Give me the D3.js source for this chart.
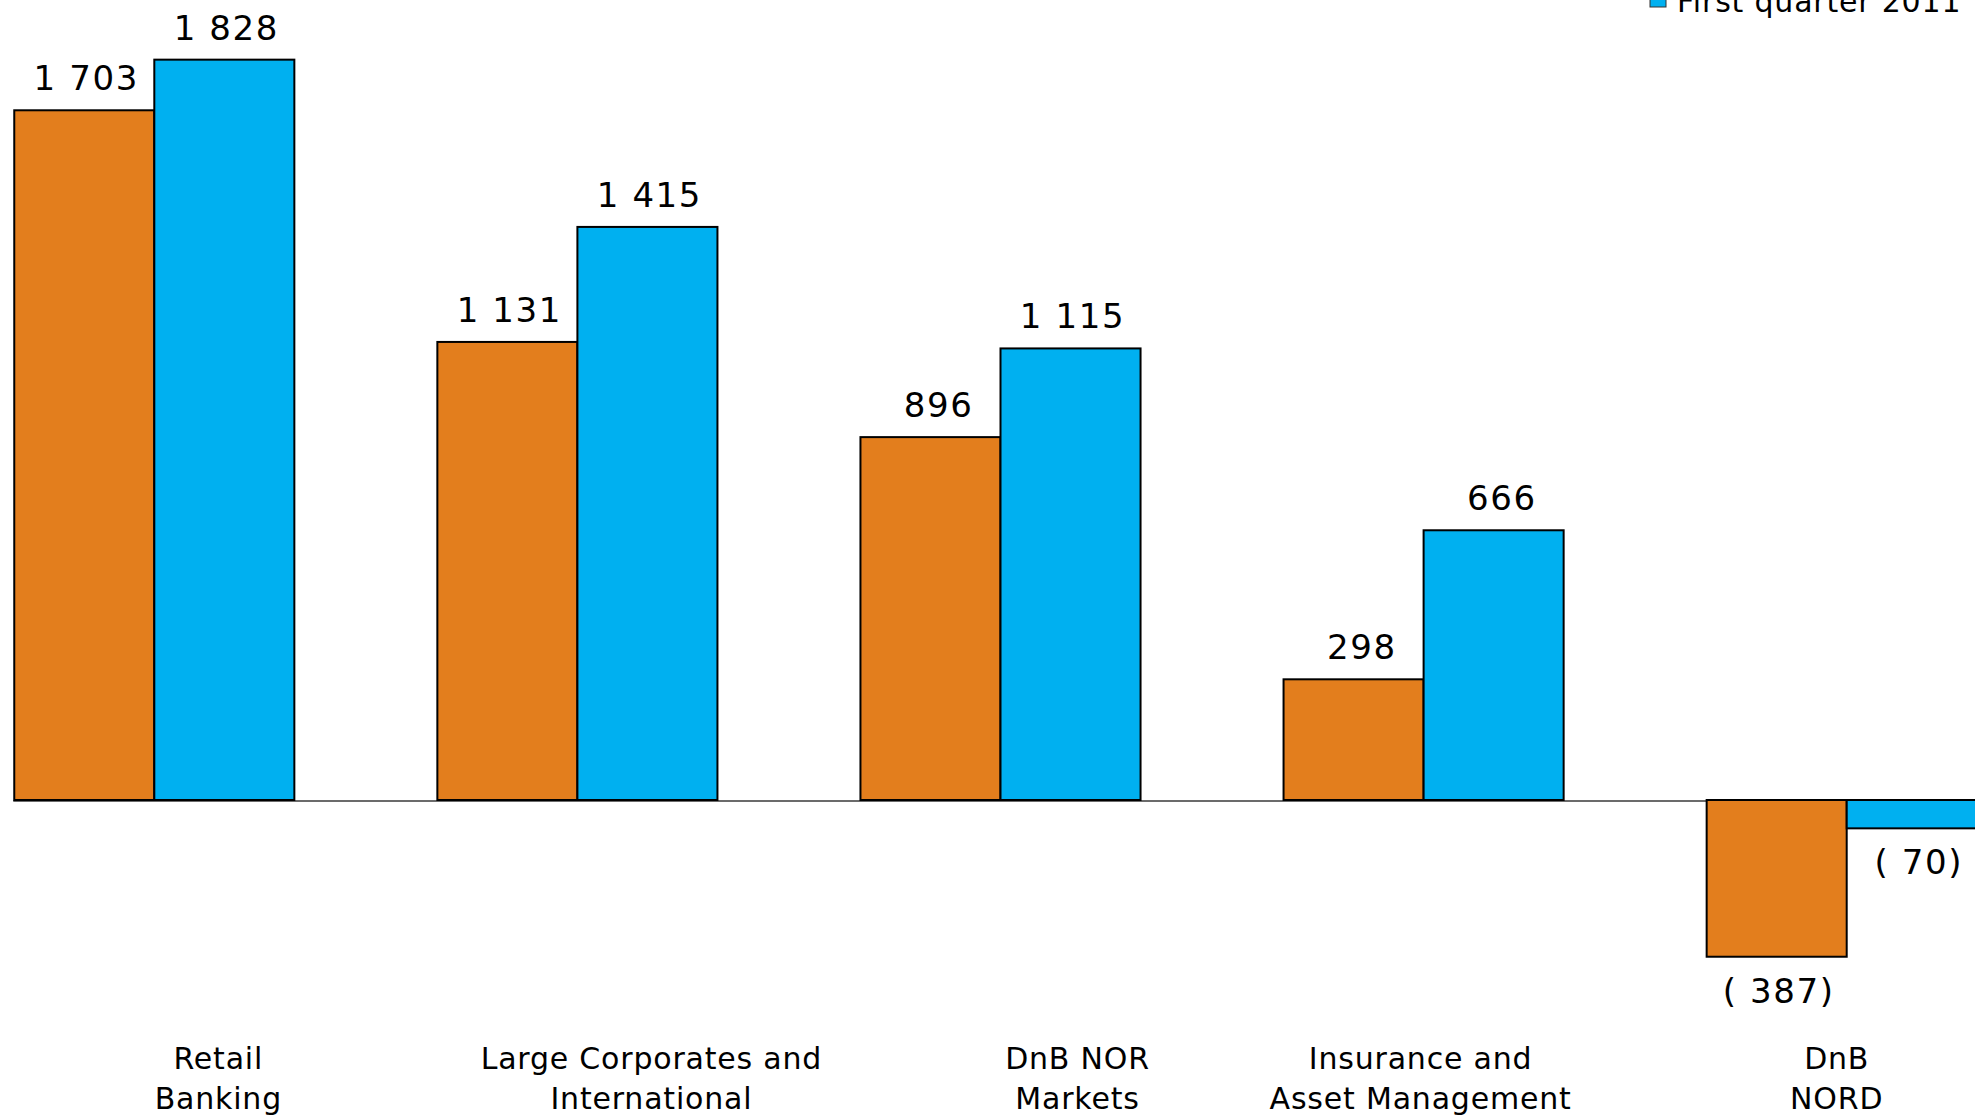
<!DOCTYPE html>
<html>
<head>
<meta charset="utf-8">
<script src="https://cdn.jsdelivr.net/npm/d3@7"></script>
<style>
  html, body { margin: 0; padding: 0; background: #ffffff; overflow: hidden; }
  svg { display: block; }
  text { font-family: "DejaVu Sans", Verdana, sans-serif; fill: #000; }
</style>
</head>
<body>
<svg id="chart" width="1975" height="1117"></svg>
<script>
// ---- data ----
const categories = ["Retail Banking", "Large Corporates and International", "DnB NOR Markets", "Insurance and Asset Management", "DnB NORD"];
const categoryLines = [["Retail", "Banking"], ["Large Corporates and", "International"], ["DnB NOR", "Markets"], ["Insurance and", "Asset Management"], ["DnB", "NORD"]];
const seriesNames = ["First quarter  2010", "First quarter  2011"];
const q1_2010 = [1703, 1131, 896, 298, -387];
const q1_2011 = [1828, 1415, 1115, 666, -70];
const seriesColors = ["#E37E1D", "#00B0F0"];
const legendShown = ["First quarter  2011"];   // only this entry is inside the frame

// ---- layout ----
const W = 1975, H = 1117;
const labelDx = [64, 74, 77, -3, -10];   // category label offsets from group centre (px)
const svg = d3.select("#chart");

const x0 = d3.scaleBand()
  .domain(categories)
  .range([-57.25, 2058.25])
  .paddingInner(0.338)
  .paddingOuter(0.169);
const x1 = d3.scaleBand()
  .domain(seriesNames)
  .range([0, x0.bandwidth()]);
const y = d3.scaleLinear()
  .domain([-400, 1900])
  .range([800 + 400 * 0.405, 800 - 1900 * 0.405]);

const seriesValues = [q1_2010, q1_2011];
const rows = [];
categories.forEach((c, i) => {
  seriesNames.forEach((s, j) => rows.push({ cat: c, ser: s, j: j, v: seriesValues[j][i] }));
});

// Excel-like "# ##0" format: a space placeholder precedes numbers below 1000
const NB = "\u00a0";
const locale = d3.formatLocale({ decimal: ",", thousands: NB, grouping: [3], currency: ["", ""] });
const fmtNum = locale.format(",");
const body = a => (a < 1000 ? NB : "") + fmtNum(a);
const fmt = v => v < 0 ? "(" + body(-v) + ")" : body(v);

// zero line
svg.append("line")
  .attr("x1", x0(categories[0]) - 1)
  .attr("x2", W)
  .attr("y1", y(0) + 1)
  .attr("y2", y(0) + 1)
  .attr("stroke", "#6b6b6b")
  .attr("stroke-width", 2);

// bars
const g = svg.append("g");
g.selectAll("rect.bar")
  .data(rows)
  .join("rect")
  .attr("class", "bar")
  .attr("x", d => x0(d.cat) + x1(d.ser))
  .attr("width", x1.bandwidth())
  .attr("y", d => y(Math.max(0, d.v)))
  .attr("height", d => Math.abs(y(d.v) - y(0)))
  .attr("fill", d => seriesColors[d.j])
  .attr("stroke", "#000")
  .attr("stroke-width", 2);

// value labels
g.selectAll("text.val")
  .data(rows)
  .join("text")
  .attr("class", "val")
  .attr("x", d => x0(d.cat) + x1(d.ser) + x1.bandwidth() / 2 + 2)
  .attr("y", d => d.v >= 0 ? y(d.v) - 20 : y(d.v) + 46)
  .attr("text-anchor", "middle")
  .style("font-size", "34px")
  .style("letter-spacing", "1.6px")
  .text(d => fmt(d.v));

// category labels
const cl = svg.append("g").selectAll("text.cat")
  .data(categories)
  .join("text")
  .attr("class", "cat")
  .attr("text-anchor", "middle")
  .style("font-size", "30px")
  .style("letter-spacing", "0.8px")
  .attr("transform", (c, i) => `translate(${x0(c) + x0.bandwidth() / 2 + labelDx[i]},1069)`);
cl.selectAll("tspan")
  .data((c, i) => categoryLines[i])
  .join("tspan")
  .attr("x", 0)
  .attr("y", (d, k) => k * 40)
  .text(d => d);

// legend (top right, partly outside the visible frame like the source)
const leg = svg.append("g").attr("transform", "translate(1650,12)");
const li = leg.selectAll("g")
  .data(legendShown)
  .join("g");
li.append("rect")
  .attr("x", 0).attr("y", -21).attr("width", 16).attr("height", 16)
  .attr("fill", d => seriesColors[seriesNames.indexOf(d)])
  .attr("stroke", "#333").attr("stroke-width", 1);
li.append("text")
  .attr("x", 27).attr("y", 0)
  .style("font-size", "30px")
  .style("letter-spacing", "0.8px")
  .text(d => d);
</script>
</body>
</html>
